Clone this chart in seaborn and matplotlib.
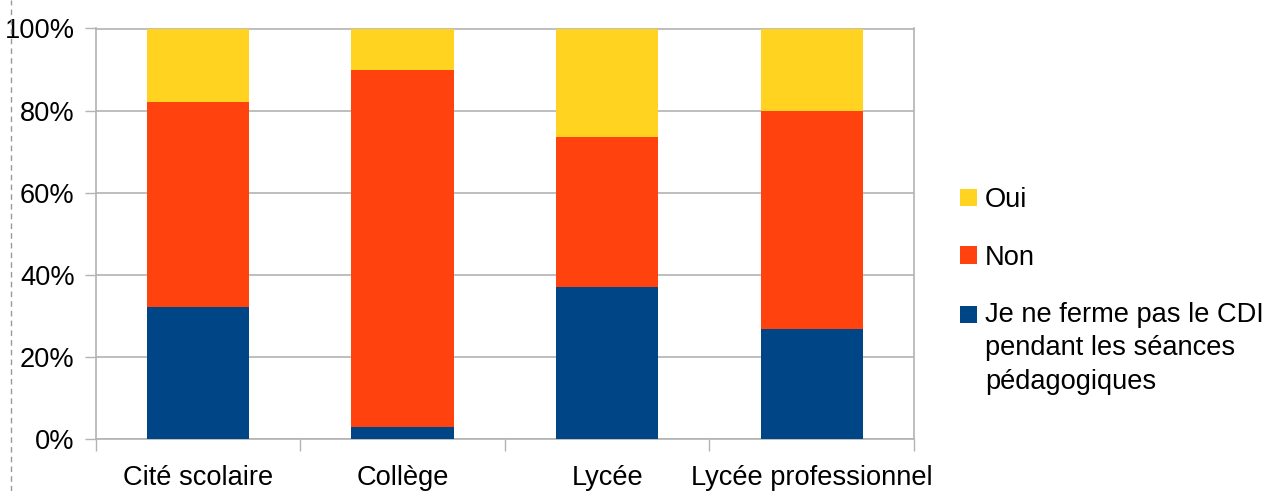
import matplotlib
matplotlib.use("Agg")
import matplotlib.pyplot as plt
from matplotlib.lines import Line2D
from matplotlib.patches import Rectangle
from matplotlib.legend_handler import HandlerPatch
from matplotlib.ticker import FixedLocator, FuncFormatter
import numpy as np
import pandas as pd
import seaborn as sns

# Share of answers per type of school (percent)
categories = ["Cité scolaire", "Collège", "Lycée", "Lycée professionnel"]
ne_ferme_pas = [32.1, 2.9, 37.0, 26.7]
non = [50.0, 86.9, 36.6, 53.3]
oui = [17.9, 10.2, 26.4, 20.0]

series_labels = ["Je ne ferme pas le CDI\npendant les séances\npédagogiques", "Non", "Oui"]
colors = ["#004586", "#FF420E", "#FFD320"]

sns.set_theme(style="white")
plt.rcParams["font.family"] = ["Liberation Sans", "DejaVu Sans"]
plt.rcParams["text.color"] = "black"
plt.rcParams["xtick.color"] = "black"
plt.rcParams["ytick.color"] = "black"

FS = 19.6

df = pd.DataFrame({
    "categorie": categories,
    "bleu": ne_ferme_pas,
    "rouge": non,
    "jaune": oui,
})
# cumulative heights so each layer is drawn over the previous one
df["c_bleu"] = df["bleu"]
df["c_rouge"] = df["bleu"] + df["rouge"]
df["c_jaune"] = df["c_rouge"] + df["jaune"]

fig = plt.figure(figsize=(12.64, 4.91), dpi=100)
ax = fig.add_axes([95.5 / 1264, 1 - 439 / 491, (914 - 95.5) / 1264, (439 - 28.5) / 491])

grid_col = "#b3b3b3"
for col, color in zip(["c_jaune", "c_rouge", "c_bleu"], colors[::-1]):
    sns.barplot(data=df, x="categorie", y=col, color=color, width=0.5,
                saturation=1, ax=ax, zorder=3, linewidth=0)

ax.set_xlim(-0.5, len(categories) - 0.5)
ax.set_ylim(0, 100)
ax.set_xlabel("")
ax.set_ylabel("")

ax.yaxis.set_major_locator(FixedLocator([0, 20, 40, 60, 80, 100]))
ax.yaxis.set_major_formatter(FuncFormatter(lambda v, p: f"{v:.0f}%"))
ax.grid(axis="y", color=grid_col, linewidth=1.2, zorder=0)
ax.set_axisbelow(True)

ax.set_xticks(np.arange(-0.5, len(categories), 1.0))
ax.set_xticklabels([""] * (len(categories) + 1))
ax.set_xticks(np.arange(len(categories)), minor=True)
ax.set_xticklabels(categories, minor=True)

ax.tick_params(axis="x", which="major", length=8.5, width=1, color=grid_col, direction="out", bottom=True)
ax.tick_params(axis="x", which="minor", length=0, pad=19, labelsize=FS, labelcolor="black", bottom=True)
ax.tick_params(axis="y", which="major", length=8, width=1, color=grid_col, direction="out",
               pad=7, labelsize=FS, labelcolor="black", left=True)

for s in ax.spines.values():
    s.set_color(grid_col)
    s.set_linewidth(1.2)
    s.set_visible(True)

# legend, the long entry keeps its swatch on its first line
LINESP = 1.36


class TopPatch(HandlerPatch):
    def __init__(self, shift, **kw):
        super().__init__(**kw)
        self.shift = shift

    def create_artists(self, legend, orig_handle, xdescent, ydescent, width, height, fontsize, trans):
        r = Rectangle((-xdescent, -ydescent + self.shift), width, height,
                      facecolor=orig_handle.get_facecolor(), edgecolor="none")
        r.set_transform(trans)
        return [r]


handles = [Rectangle((0, 0), 1, 1, facecolor=c, edgecolor="none") for c in colors]
leg = fig.legend(handles[::-1], series_labels[::-1], loc="upper left",
                 bbox_to_anchor=(960 / 1264, 1 - 187 / 491), frameon=False, fontsize=FS,
                 handlelength=0.62, handleheight=0.62, handletextpad=0.30,
                 labelspacing=1.16, borderpad=0, borderaxespad=0,
                 handler_map={handles[0]: TopPatch(shift=24.8)})
for t in leg.get_texts():
    t.set_linespacing(LINESP)
    t.set_color("black")

# dashed page margin on the left
fig.add_artist(Line2D([11 / 1264, 11 / 1264], [0, 1], transform=fig.transFigure,
                      color="#999999", linewidth=1, linestyle=(0, (4, 3))))

fig.savefig("out.png", dpi=100)
